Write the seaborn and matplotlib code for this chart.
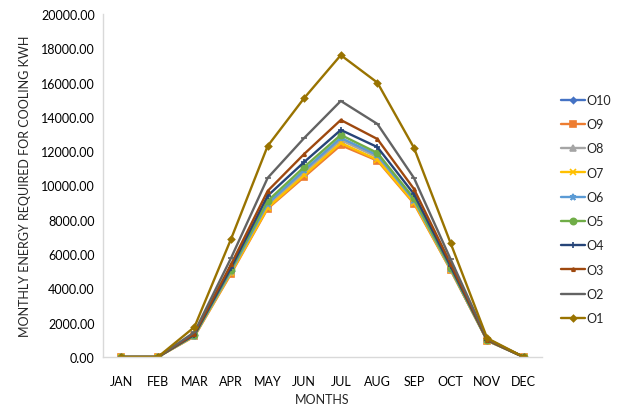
import numpy as np
import pandas as pd
import matplotlib
matplotlib.use("Agg")
import matplotlib.pyplot as plt
import seaborn as sns

months = ["JAN", "FEB", "MAR", "APR", "MAY", "JUN", "JUL", "AUG", "SEP", "OCT", "NOV", "DEC"]
series_names = ["O1", "O2", "O3", "O4", "O5", "O6", "O7", "O8", "O9", "O10"]

o1 = [0, 0, 1750, 6880, 12300, 15100, 17600, 16000, 12200, 6650, 1100, 0]
o2 = [0, 0, 1450, 5770, 10440, 12770, 14930, 13590, 10440, 5710, 1050, 0]
o3 = [0, 0, 1350, 5400, 9680, 11840, 13820, 12710, 9800, 5450, 1000, 0]
o4 = [0, 0, 1300, 5200, 9400, 11370, 13240, 12240, 9500, 5300, 1000, 0]
o5 = [0, 0, 1270, 5100, 9100, 11080, 12950, 11900, 9250, 5200, 980, 0]
o6 = [0, 0, 1250, 5000, 8950, 10900, 12780, 11780, 9150, 5150, 970, 0]
o7 = [0, 0, 1220, 4900, 8700, 10600, 12480, 11500, 9000, 5100, 960, 0]
o8 = [0, 0, 1240, 4950, 8800, 10750, 12650, 11650, 9080, 5120, 965, 0]
o9 = [0, 0, 1200, 4850, 8650, 10500, 12350, 11450, 8950, 5080, 955, 0]
o10 = [0, 0, 1260, 5020, 8900, 10850, 12700, 11720, 9100, 5130, 968, 0]

y_ticks = [0, 2000, 4000, 6000, 8000, 10000, 12000, 14000, 16000, 18000, 20000]

values = {"O1": o1, "O2": o2, "O3": o3, "O4": o4, "O5": o5,
          "O6": o6, "O7": o7, "O8": o8, "O9": o9, "O10": o10}

df = pd.DataFrame([
    {"month": i, "series": name, "kwh": v}
    for name in series_names for i, v in enumerate(values[name])
])

palette = {
    "O10": "#4472C4", "O9": "#ED7D31", "O8": "#A5A5A5", "O7": "#FFC000",
    "O6": "#5B9BD5", "O5": "#70AD47", "O4": "#264478", "O3": "#9E480E",
    "O2": "#636363", "O1": "#997300",
}
markers = {
    "O10": "D", "O9": "s", "O8": "^", "O7": "x", "O6": "*",
    "O5": "o", "O4": "+", "O3": "^", "O2": "_", "O1": "D",
}
msize = {
    "O10": 3, "O9": 4.5, "O8": 4, "O7": 4.5, "O6": 5,
    "O5": 4.5, "O4": 4.5, "O3": 2.5, "O2": 5, "O1": 3.2,
}

sns.set_theme(style="white")
plt.rcParams["font.family"] = ["Lato", "DejaVu Sans"]

fig = plt.figure(figsize=(6.22, 4.10), dpi=100)
ax = fig.add_axes([103 / 622, 1 - 358 / 410, 439 / 622, 343 / 410])

# draw back-to-front so O1 sits on top
for name in reversed(series_names):
    sub = df[df["series"] == name]
    sns.lineplot(data=sub, x="month", y="kwh", ax=ax, color=palette[name],
                 marker=markers[name], markersize=msize[name],
                 markeredgecolor=palette[name], markeredgewidth=1.2,
                 linewidth=1.7, label=name, legend=False)

ax.set_xlim(-0.5, 11.5)
ax.set_ylim(0, 20000)
ax.set_xticks(range(12))
ax.set_xticklabels(months)
ax.set_yticks(y_ticks)
ax.set_yticklabels([f"{t:.2f}" for t in y_ticks])
ax.tick_params(axis="both", labelsize=9, colors="#000000", length=0)
ax.tick_params(axis="x", pad=13)
ax.tick_params(axis="y", pad=6)

for side in ["top", "right"]:
    ax.spines[side].set_visible(False)
for side in ["left", "bottom"]:
    ax.spines[side].set_color("#D9D9D9")
    ax.spines[side].set_linewidth(1.0)

ax.set_xlabel("MONTHS", fontsize=9, labelpad=4)
ax.set_ylabel("MONTHLY ENERGY REQUIRED FOR COOLING KWH", fontsize=9, labelpad=7)

handles, labels = ax.get_legend_handles_labels()
order = {l: h for h, l in zip(handles, labels)}
leg_names = list(reversed(series_names))
fig.legend([order[n] for n in leg_names], leg_names,
           loc="center left", bbox_to_anchor=(556 / 622, 1 - 210 / 410),
           frameon=False, fontsize=9, labelspacing=0.98,
           handlelength=1.9, handletextpad=0.15, borderaxespad=0)

fig.savefig("out.png", dpi=100, facecolor="white")
